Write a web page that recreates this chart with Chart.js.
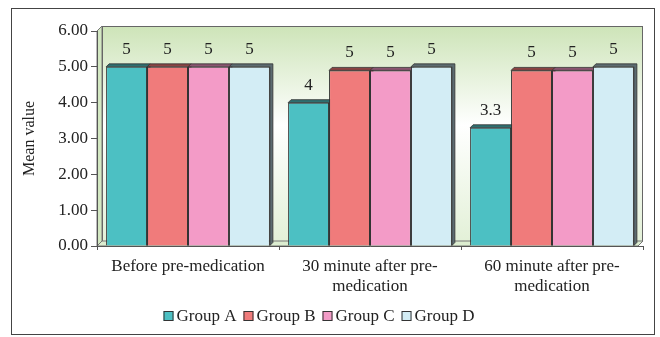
<!DOCTYPE html>
<html>
<head>
<meta charset="utf-8">
<script src="https://cdn.jsdelivr.net/npm/chart.js@4"></script>
<style>
html,body{margin:0;padding:0;background:#fff;}
#wrap{position:relative;width:660px;height:337px;}
#frame{position:absolute;left:11px;top:8px;width:644px;height:327px;border:1px solid #444;box-sizing:border-box;pointer-events:none;}
canvas{position:absolute;left:0;top:0;}
</style>
</head>
<body>
<div id="wrap">
<canvas id="c" width="660" height="337"></canvas>
<div id="frame"></div>
</div>
<script>
const categories = [["Before pre-medication"], ["30 minute after pre-", "medication"], ["60 minute after pre-", "medication"]];
const seriesNames = ["Group A", "Group B", "Group C", "Group D"];
const groupA = [5, 4, 3.3];
const groupB = [5, 4.9, 4.9];
const groupC = [5, 4.9, 4.9];
const groupD = [5, 5, 5];
const labelsA = ["5", "4", "3.3"];
const labelsB = ["5", "5", "5"];
const labelsC = ["5", "5", "5"];
const labelsD = ["5", "5", "5"];
const yTicks = [0, 1, 2, 3, 4, 5, 6];

const colors = ["#4cc0c3", "#f07b7b", "#f39bc7", "#d3edf5"];
const sideColors = ["#2e6f70", "#8a4444", "#8a5570", "#5c6b70"];
const allValues = [groupA, groupB, groupC, groupD];
const allLabels = [labelsA, labelsB, labelsC, labelsD];
const FONT = "'Liberation Serif', 'DejaVu Serif', serif";
const D3 = 3;

const bgPlugin = {
  id: 'bg',
  beforeDraw(chart) {
    const {ctx, chartArea: a} = chart;
    const top = a.top - 5;
    const g = ctx.createLinearGradient(0, top, 0, a.bottom);
    g.addColorStop(0, '#cde4b8');
    g.addColorStop(0.45, '#ffffff');
    g.addColorStop(1, '#e2f0d6');
    ctx.save();
    ctx.fillStyle = '#d3e8c2';
    ctx.beginPath();
    ctx.moveTo(a.left, a.top); ctx.lineTo(a.left + 5, top); ctx.lineTo(a.left + 5, a.bottom - 5);
    ctx.lineTo(a.left, a.bottom); ctx.closePath(); ctx.fill();
    ctx.strokeStyle = '#777'; ctx.lineWidth = 1; ctx.stroke();
    ctx.fillStyle = g;
    ctx.fillRect(a.left + 5, top, a.right - a.left - 5, a.bottom - top - 5);
    ctx.strokeStyle = '#666';
    ctx.strokeRect(a.left + 5.5, top + 0.5, a.right - a.left - 6, a.bottom - top - 5);
    ctx.fillStyle = '#dcedd0';
    ctx.beginPath();
    ctx.moveTo(a.left, a.bottom); ctx.lineTo(a.left + 5, a.bottom - 5); ctx.lineTo(a.right, a.bottom - 5);
    ctx.lineTo(a.right - 5, a.bottom); ctx.closePath(); ctx.fill();
    ctx.strokeStyle = '#777'; ctx.stroke();
    ctx.restore();
  }
};

const facePlugin = {
  id: 'faces',
  beforeDatasetsDraw(chart) {
    const ctx = chart.ctx;
    ctx.save();
    chart.data.datasets.forEach((ds, i) => {
      const meta = chart.getDatasetMeta(i);
      meta.data.forEach(el => {
        const x0 = el.x - el.width / 2, x1 = el.x + el.width / 2, y = el.y, b = el.base;
        ctx.fillStyle = sideColors[i];
        ctx.beginPath();
        ctx.moveTo(x0, y); ctx.lineTo(x0 + D3, y - D3); ctx.lineTo(x1 + D3, y - D3);
        ctx.lineTo(x1 + D3, b - D3); ctx.lineTo(x1, b); ctx.lineTo(x1, y); ctx.closePath();
        ctx.fill();
        ctx.strokeStyle = '#333';
        ctx.lineWidth = 0.8;
        ctx.stroke();
      });
    });
    ctx.restore();
  },
  afterDatasetsDraw(chart) {
    const ctx = chart.ctx;
    ctx.save();
    ctx.font = "17px " + FONT;
    ctx.fillStyle = '#222';
    ctx.textAlign = 'center';
    ctx.textBaseline = 'bottom';
    chart.data.datasets.forEach((ds, i) => {
      const meta = chart.getDatasetMeta(i);
      meta.data.forEach((el, j) => {
        ctx.fillText(allLabels[i][j], el.x, el.y - 9);
      });
    });
    ctx.restore();
  }
};

const legendPlugin = {
  id: 'customLegend',
  afterDraw(chart) {
    const ctx = chart.ctx;
    ctx.save();
    ctx.font = "17px " + FONT;
    const box = 10, gap = 3, space = 7;
    const widths = seriesNames.map(n => box + gap + ctx.measureText(n).width);
    const total = widths.reduce((a, b) => a + b, 0) + space * (seriesNames.length - 1);
    let x = 319 - total / 2;
    const yc = 316;
    ctx.textBaseline = 'middle';
    ctx.textAlign = 'left';
    seriesNames.forEach((n, i) => {
      ctx.fillStyle = colors[i];
      ctx.fillRect(x, yc - box / 2, box, box);
      ctx.strokeStyle = '#333';
      ctx.lineWidth = 1;
      ctx.strokeRect(x + 0.5, yc - box / 2 + 0.5, box - 1, box - 1);
      ctx.fillStyle = '#222';
      ctx.fillText(n, x + box + gap, yc + 1);
      x += widths[i] + space;
    });
    ctx.restore();
  }
};

new Chart(document.getElementById('c'), {
  type: 'bar',
  data: {
    labels: categories,
    datasets: seriesNames.map((n, i) => ({
      label: n,
      data: allValues[i],
      backgroundColor: colors[i],
      borderColor: '#333',
      borderWidth: 1,
      categoryPercentage: 0.9,
      barPercentage: 1.0
    }))
  },
  options: {
    responsive: false,
    animation: false,
    layout: {padding: {left: 20, right: 17, top: 31, bottom: 39}},
    plugins: {
      tooltip: {enabled: false},
      legend: {display: false}
    },
    scales: {
      y: {
        min: 0, max: 6,
        afterFit(s) { s.width = 77; },
        afterBuildTicks(s) { s.ticks = yTicks.map(v => ({value: v})); },
        ticks: {
          font: {family: FONT, size: 17},
          color: '#222',
          padding: 3,
          callback: v => Number(v).toFixed(2)
        },
        grid: {drawOnChartArea: false, drawTicks: true, tickLength: 6, color: '#555'},
        border: {display: true, color: '#555'},
        title: {display: true, text: 'Mean value', font: {family: FONT, size: 16}, color: '#222', padding: {top: 0, bottom: 4}}
      },
      x: {
        afterFit(s) { s.height = 52; },
        ticks: {font: {family: FONT, size: 17}, color: '#222', padding: 6, maxRotation: 0},
        grid: {drawOnChartArea: false, drawTicks: true, tickLength: 4, color: '#555', offset: true},
        border: {display: true, color: '#555'}
      }
    }
  },
  plugins: [bgPlugin, facePlugin, legendPlugin]
});
</script>
</body>
</html>
